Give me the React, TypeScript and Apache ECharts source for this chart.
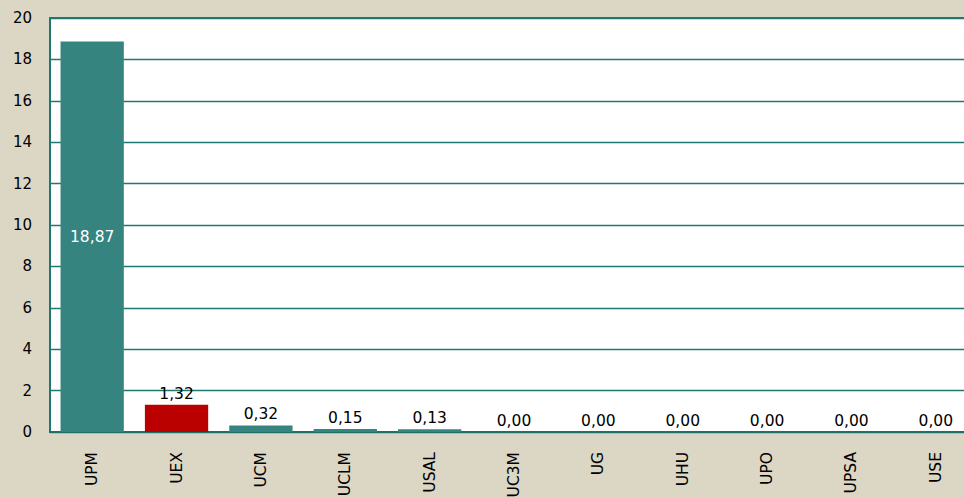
import React, { useEffect, useRef } from "react";
import * as echarts from "echarts";

const categories = ["UPM", "UEX", "UCM", "UCLM", "USAL", "UC3M", "UG", "UHU", "UPO", "UPSA", "USE"];
const values = [18.87, 1.32, 0.32, 0.15, 0.13, 0, 0, 0, 0, 0, 0];
const highlighted = ["UEX"];
const yTicks = { min: 0, max: 20, interval: 2 };

const TEAL = "#358480";
const RED = "#bb0000";
const FONT = "DejaVu Sans";

export default function App() {
  const ref = useRef<HTMLDivElement>(null);
  useEffect(() => {
    document.body.style.margin = "0";
    document.body.style.overflow = "hidden";
    const chart = echarts.init(ref.current!, undefined, { renderer: "svg" });
    chart.setOption({
      animation: false,
      backgroundColor: "#dcd6c4",
      grid: {
        left: 50, top: 18, right: -14, bottom: 66,
        outerBoundsMode: "none",
        show: true, backgroundColor: "#ffffff", borderColor: "#1f7873", borderWidth: 2,
      },
      xAxis: {
        type: "category",
        data: categories,
        axisLine: { show: true, lineStyle: { color: "#1f6f6b", width: 2 } },
        axisTick: { show: false },
        axisLabel: { rotate: 90, color: "#000", fontFamily: FONT, fontSize: 15.5, margin: 20 },
      },
      yAxis: {
        type: "value",
        min: yTicks.min,
        max: yTicks.max,
        interval: yTicks.interval,
        axisLine: { show: false },
        axisTick: { show: false },
        axisLabel: { color: "#000", fontFamily: FONT, fontSize: 15, margin: 18 },
        splitLine: { lineStyle: { color: "#1f7873", width: 1.3 } },
      },
      series: [
        {
          type: "bar",
          barWidth: "75%",
          data: values.map((v, i) => ({
            value: v,
            itemStyle: { color: highlighted.includes(categories[i]) ? RED : TEAL },
            label: i === 0
              ? { show: true, position: "inside", color: "#ffffff" }
              : { show: true, position: "top", color: "#000" },
          })),
          label: {
            show: true,
            fontFamily: FONT,
            fontSize: 15.5,
            distance: 3,
            formatter: (p: any) => p.value.toFixed(2).replace(".", ","),
          },
        },
      ],
    });
    return () => chart.dispose();
  }, []);
  return <div ref={ref} style={{ width: 964, height: 498, overflow: "hidden" }} />;
}
